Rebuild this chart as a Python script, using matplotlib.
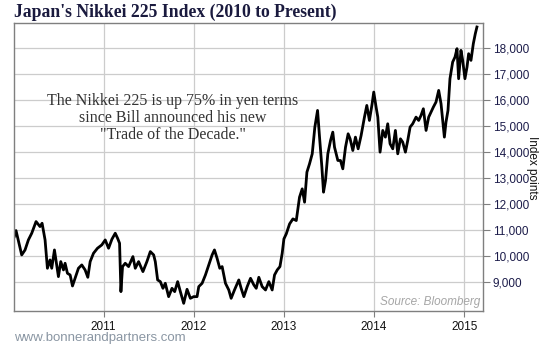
import matplotlib
matplotlib.use("Agg")
import matplotlib.pyplot as plt
from matplotlib.ticker import FuncFormatter

# Nikkei 225 (decimal year, index points)
years = [
    2010.011, 2010.030, 2010.067, 2010.093, 2010.130, 2010.167, 2010.204, 2010.252,
    2010.296, 2010.319, 2010.352, 2010.378, 2010.407, 2010.426, 2010.456, 2010.481,
    2010.500, 2010.526, 2010.556, 2010.574, 2010.600, 2010.630, 2010.656, 2010.685,
    2010.722, 2010.759, 2010.796, 2010.826, 2010.852, 2010.889, 2010.933, 2010.981,
    2011.019, 2011.056, 2011.093, 2011.130, 2011.156, 2011.178, 2011.193, 2011.211,
    2011.241, 2011.278, 2011.326, 2011.352, 2011.389, 2011.437, 2011.481, 2011.519,
    2011.556, 2011.574, 2011.600, 2011.630, 2011.659, 2011.685, 2011.722, 2011.759,
    2011.789, 2011.822, 2011.852, 2011.889, 2011.926, 2011.963, 2012.000, 2012.037,
    2012.056, 2012.093, 2012.130, 2012.167, 2012.204, 2012.230, 2012.259, 2012.289,
    2012.315, 2012.352, 2012.389, 2012.415, 2012.452, 2012.500, 2012.526, 2012.556,
    2012.593, 2012.630, 2012.667, 2012.693, 2012.722, 2012.759, 2012.796, 2012.833,
    2012.870, 2012.896, 2012.926, 2012.956, 2012.981, 2013.000, 2013.026, 2013.063,
    2013.100, 2013.137, 2013.173, 2013.203, 2013.229, 2013.255, 2013.284, 2013.314,
    2013.343, 2013.373, 2013.395, 2013.421, 2013.439, 2013.461, 2013.487, 2013.517,
    2013.542, 2013.561, 2013.598, 2013.627, 2013.653, 2013.683, 2013.712, 2013.734,
    2013.764, 2013.793, 2013.823, 2013.856, 2013.893, 2013.919, 2013.948, 2013.978,
    2013.996, 2014.022, 2014.041, 2014.066, 2014.096, 2014.125, 2014.151, 2014.177,
    2014.207, 2014.236, 2014.262, 2014.292, 2014.317, 2014.347, 2014.373, 2014.399,
    2014.428, 2014.465, 2014.494, 2014.520, 2014.546, 2014.576, 2014.605, 2014.631,
    2014.657, 2014.686, 2014.716, 2014.742, 2014.760, 2014.779, 2014.797, 2014.819,
    2014.841, 2014.871, 2014.897, 2014.919, 2014.937, 2014.963, 2014.982, 2015.007,
    2015.030, 2015.048, 2015.074, 2015.100, 2015.122, 2015.140,
]
nikkei = [
    10744, 10974, 10423, 10038, 10230, 10615, 10870, 11320,
    11128, 11256, 10615, 9526, 9846, 9526, 10230, 9654,
    9205, 9782, 9462, 9718, 9333, 9269, 8846, 9141,
    9526, 9654, 9462, 9179, 9782, 10103, 10295, 10423,
    10615, 10295, 10641, 10872, 10679, 10487, 8628, 9590,
    9718, 9590, 9974, 9526, 9782, 9397, 9782, 10167,
    10038, 9782, 9077, 9013, 8756, 8949, 8436, 8756,
    8628, 9013, 8628, 8179, 8718, 8372, 8436, 8436,
    8821, 8949, 9269, 9654, 10038, 10231, 9910, 9526,
    9590, 8949, 8692, 8372, 8692, 9077, 8756, 8436,
    8821, 9141, 8885, 8756, 9179, 8821, 8692, 9013,
    8692, 9269, 9462, 9590, 10103, 10654, 10846, 11231,
    11423, 11359, 12256, 12577, 12064, 13218, 13538, 13923,
    14949, 15590, 14564, 13410, 12449, 12897, 13923, 14436,
    14756, 14179, 13667, 13667, 13346, 14179, 14692, 14500,
    14051, 14564, 14115, 14628, 15333, 15782, 15205, 15846,
    16295, 15718, 15333, 13987, 14821, 14564, 15077, 14308,
    14115, 14821, 13923, 14500, 14372, 13987, 14436, 14949,
    15077, 15333, 15205, 15397, 15654, 14821, 15333, 15526,
    15718, 15910, 16359, 15846, 15205, 14564, 15141, 15590,
    16808, 17449, 17641, 17962, 16808, 17897, 17513, 16808,
    17256, 17769, 17513, 18154, 18538, 18795,
]

year_ticks = [2011, 2012, 2013, 2014, 2015]
value_ticks = [9000, 10000, 11000, 12000, 13000, 14000, 15000, 16000, 17000, 18000]

fig = plt.figure(figsize=(5.4, 3.45), dpi=100)
ax = fig.add_axes([0.0265, 0.0986, 0.8679, 0.8356])

ax.plot(years, nikkei, color="black", linewidth=2.0, solid_joinstyle="round")

ax.set_xlim(2010.011, 2015.207)
ax.set_ylim(7885, 18960)
ax.set_xticks(year_ticks)
ax.set_xticklabels([str(y) for y in year_ticks])
ax.set_yticks(value_ticks)
ax.yaxis.set_major_formatter(FuncFormatter(lambda v, p: f"{int(v):,}"))
ax.yaxis.tick_right()

ax.grid(True, color="#cccccc", linewidth=0.9)
ax.set_axisbelow(True)
for s in ax.spines.values():
    s.set_color("#7f7f7f")
    s.set_linewidth(1.0)

ax.tick_params(axis="x", direction="out", length=4, color="#7f7f7f",
               labelsize=8.5, labelcolor="#111111", pad=3)
ax.tick_params(axis="y", direction="out", length=5, color="#7f7f7f",
               labelsize=8.5, labelcolor="#1c1c4a", pad=2)
for lab in ax.get_xticklabels() + ax.get_yticklabels():
    lab.set_fontfamily("Liberation Sans")

fig.text(14 / 540, 1 - 12 / 345, "Japan's Nikkei 225 Index (2010 to Present)",
         family="Liberation Serif", weight="bold", fontsize=12.7,
         color="#1a1a3e", ha="left", va="center")

fig.text(173 / 540, 1 - 118 / 345,
         "The Nikkei 225 is up 75% in yen terms\nsince Bill announced his new\n\"Trade of the Decade.\"",
         family="Liberation Serif", fontsize=11.5, color="#333333",
         ha="center", va="center", linespacing=1.1)

fig.text(532 / 540, 1 - 168 / 345, "Index points", family="Liberation Sans",
         fontsize=8.5, color="#111111", rotation=270, ha="center", va="center")

fig.text(480 / 540, 1 - 302 / 345, "Source: Bloomberg", family="Liberation Sans",
         style="italic", fontsize=8.5, color="#a6a6a6", ha="right", va="center")

fig.text(14 / 540, 1 - 338 / 345, "www.bonnerandpartners.com", family="Liberation Sans",
         fontsize=9.5, color="#8a96a3", ha="left", va="center")

fig.savefig("out.png", dpi=100)
